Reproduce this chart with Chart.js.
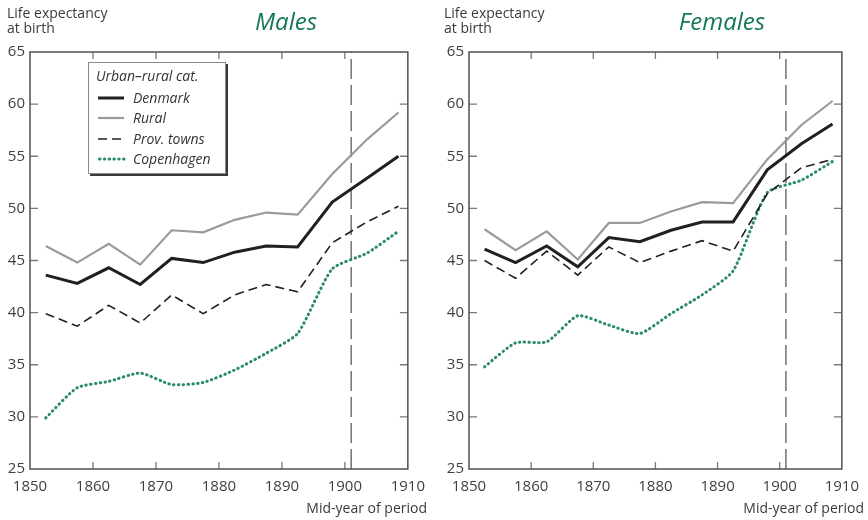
<!DOCTYPE html>
<html>
<head>
<meta charset="utf-8">
<script src="https://cdn.jsdelivr.net/npm/chart.js@4.4.1/dist/chart.umd.min.js"></script>
<style>
  body { margin: 0; background: #fff; font-family: 'Open Sans', sans-serif; }
  #wrap { position: relative; width: 868px; height: 520px; overflow: hidden; }
  canvas { position: absolute; top: 0; }
  .txt { position: absolute; color: #3a3a3a; font-size: 14px; line-height: 15px; white-space: nowrap; }
  .ttl { position: absolute; width: 160px; text-align: center; color: #13785a; font-size: 24px; line-height: 24px; font-style: italic; font-weight: 500; }
  .xt { width: 200px; text-align: right; }
  #legend { position: absolute; left: 88px; top: 62px; width: 138px; height: 112px; background: #fff;
            border: 1px solid #8a8a8a; box-shadow: 2px 2px 0 #3a3a3a; box-sizing: border-box; }
  #legend .row { position: absolute; left: 0; font-style: italic; font-size: 14px; color: #333; line-height: 16px; white-space: nowrap; }
  #legend svg { position: absolute; left: 9px; }
</style>
</head>
<body>
<div id="wrap">
  <canvas id="males" width="434" height="520" style="left:0"></canvas>
  <canvas id="females" width="434" height="520" style="left:434px"></canvas>

  <div class="txt" style="left:7px; top:5px">Life expectancy<br>at birth</div>
  <div class="txt" style="left:444px; top:5px">Life expectancy<br>at birth</div>
  <div class="ttl" style="left:206px; top:9px">Males</div>
  <div class="ttl" style="left:642px; top:9px">Females</div>
  <div class="txt xt" style="left:227px; top:500px">Mid-year of period</div>
  <div class="txt xt" style="left:664px; top:500px">Mid-year of period</div>

  <div id="legend">
    <div class="row" style="left:7px; top:5px">Urban–rural cat.</div>
    <svg width="30" height="110" style="top:0">
      <line x1="0" y1="35" x2="26" y2="35" stroke="#231f20" stroke-width="3"/>
      <line x1="0" y1="55" x2="26" y2="55" stroke="#9a9a9a" stroke-width="2.2"/>
      <line x1="0" y1="76" x2="26" y2="76" stroke="#231f20" stroke-width="1.6" stroke-dasharray="9 5"/>
      <line x1="1.5" y1="96" x2="26" y2="96" stroke="#2b8a6c" stroke-width="3" stroke-dasharray="0.5 4.3" stroke-linecap="round"/>
    </svg>
    <div class="row" style="left:44px; top:27px">Denmark</div>
    <div class="row" style="left:44px; top:47px">Rural</div>
    <div class="row" style="left:44px; top:68px">Prov. towns</div>
    <div class="row" style="left:44px; top:88px">Copenhagen</div>
  </div>
</div>

<script>
// mid-years of the periods
var years = [1852.5, 1857.5, 1862.5, 1867.5, 1872.5, 1877.5, 1882.5, 1887.5, 1892.5, 1898, 1903.5, 1908.5]
var censusYear = 1901
var xTicks = [1850, 1860, 1870, 1880, 1890, 1900, 1910]
var yTicks = [25, 30, 35, 40, 45, 50, 55, 60, 65]

// males
var denmarkM = [43.6, 42.8, 44.3, 42.7, 45.2, 44.8, 45.8, 46.4, 46.3, 50.6, 52.9, 55.0]
var ruralM = [46.4, 44.8, 46.6, 44.6, 47.9, 47.7, 48.9, 49.6, 49.4, 53.3, 56.6, 59.2]
var provM = [39.9, 38.7, 40.7, 39.0, 41.7, 39.9, 41.7, 42.7, 42.0, 46.7, 48.7, 50.2]
var cphM = [29.9, 32.8, 33.4, 34.2, 33.1, 33.3, 34.5, 36.1, 38.0, 44.2, 45.7, 47.8]

// females
var denmarkF = [46.1, 44.8, 46.4, 44.4, 47.2, 46.8, 47.9, 48.7, 48.7, 53.7, 56.2, 58.1]
var ruralF = [48.0, 46.0, 47.8, 45.1, 48.6, 48.6, 49.7, 50.6, 50.5, 54.7, 58.0, 60.3]
var provF = [45.0, 43.3, 45.9, 43.6, 46.3, 44.8, 45.9, 46.9, 45.9, 51.4, 53.9, 54.7]
var cphF = [34.8, 37.1, 37.2, 39.7, 38.8, 38.0, 39.9, 41.7, 44.0, 51.5, 52.7, 54.5]

function pts(vals) {
    return vals.map(function (v, i) { return { x: years[i], y: v } })
}

// frame + inward ticks on all four sides
var frameTicks = {
    id: 'frameTicks',
    afterDatasetsDraw(chart) {
        var ctx = chart.ctx, a = chart.chartArea, x = chart.scales.x, y = chart.scales.y
        ctx.save()
        ctx.strokeStyle = '#7a7a7a'
        ctx.lineWidth = 1.3
        ctx.beginPath()
        xTicks.slice(1, -1).forEach(function (t) {
            var px = x.getPixelForValue(t)
            ctx.moveTo(px, a.bottom); ctx.lineTo(px, a.bottom - 7)
            ctx.moveTo(px, a.top); ctx.lineTo(px, a.top + 7)
        })
        yTicks.slice(1, -1).forEach(function (t) {
            var py = y.getPixelForValue(t)
            ctx.moveTo(a.left, py); ctx.lineTo(a.left + 8, py)
            ctx.moveTo(a.right, py); ctx.lineTo(a.right - 8, py)
        })
        ctx.stroke()
        ctx.strokeStyle = '#505050'
        ctx.lineWidth = 1.5
        ctx.strokeRect(a.left, a.top, a.right - a.left, a.bottom - a.top)
        ctx.restore()
    }
}

function makeChart(id, denmark, rural, prov, cph, yWidth, padRight) {
    var tickFont = { family: 'Open Sans', size: 15 }
    return new Chart(document.getElementById(id).getContext('2d'), {
        type: 'line',
        data: {
            datasets: [
                { data: pts(denmark), borderColor: '#231f20', borderWidth: 3, tension: 0 },
                { data: pts(prov), borderColor: '#231f20', borderWidth: 1.6, borderDash: [9, 5], tension: 0 },
                { data: pts(rural), borderColor: '#9a9a9a', borderWidth: 2.2, tension: 0 },
                { data: pts(cph), borderColor: '#2b8a6c', borderWidth: 3, borderDash: [0.5, 4.3], borderCapStyle: 'round', tension: 0.2 },
                { data: [{ x: censusYear, y: yTicks[0] }, { x: censusYear, y: yTicks[yTicks.length - 1] }],
                  borderColor: '#707070', borderWidth: 1.5, borderDash: [20, 6] }
            ]
        },
        options: {
            responsive: false,
            animation: false,
            devicePixelRatio: 1,
            elements: { point: { radius: 0 } },
            layout: { padding: { top: 52, right: padRight, bottom: 0, left: 0 } },
            plugins: { legend: { display: false }, tooltip: { enabled: false } },
            scales: {
                x: {
                    type: 'linear', min: xTicks[0], max: xTicks[xTicks.length - 1],
                    grid: { display: false, drawTicks: false }, border: { display: false },
                    ticks: { stepSize: 10, padding: 9, color: '#404040', font: tickFont, maxRotation: 0,
                             callback: function (v) { return String(v) } },
                    afterFit: function (s) { s.height = 51 }
                },
                y: {
                    min: yTicks[0], max: yTicks[yTicks.length - 1],
                    grid: { display: false, drawTicks: false }, border: { display: false },
                    ticks: { stepSize: 5, padding: 5, color: '#404040', font: tickFont },
                    afterFit: function (s) { s.width = yWidth }
                }
            }
        },
        plugins: [frameTicks]
    })
}

makeChart('males', denmarkM, ruralM, provM, cphM, 30, 23)
makeChart('females', denmarkF, ruralF, provF, cphF, 35, 18)
</script>
</body>
</html>
